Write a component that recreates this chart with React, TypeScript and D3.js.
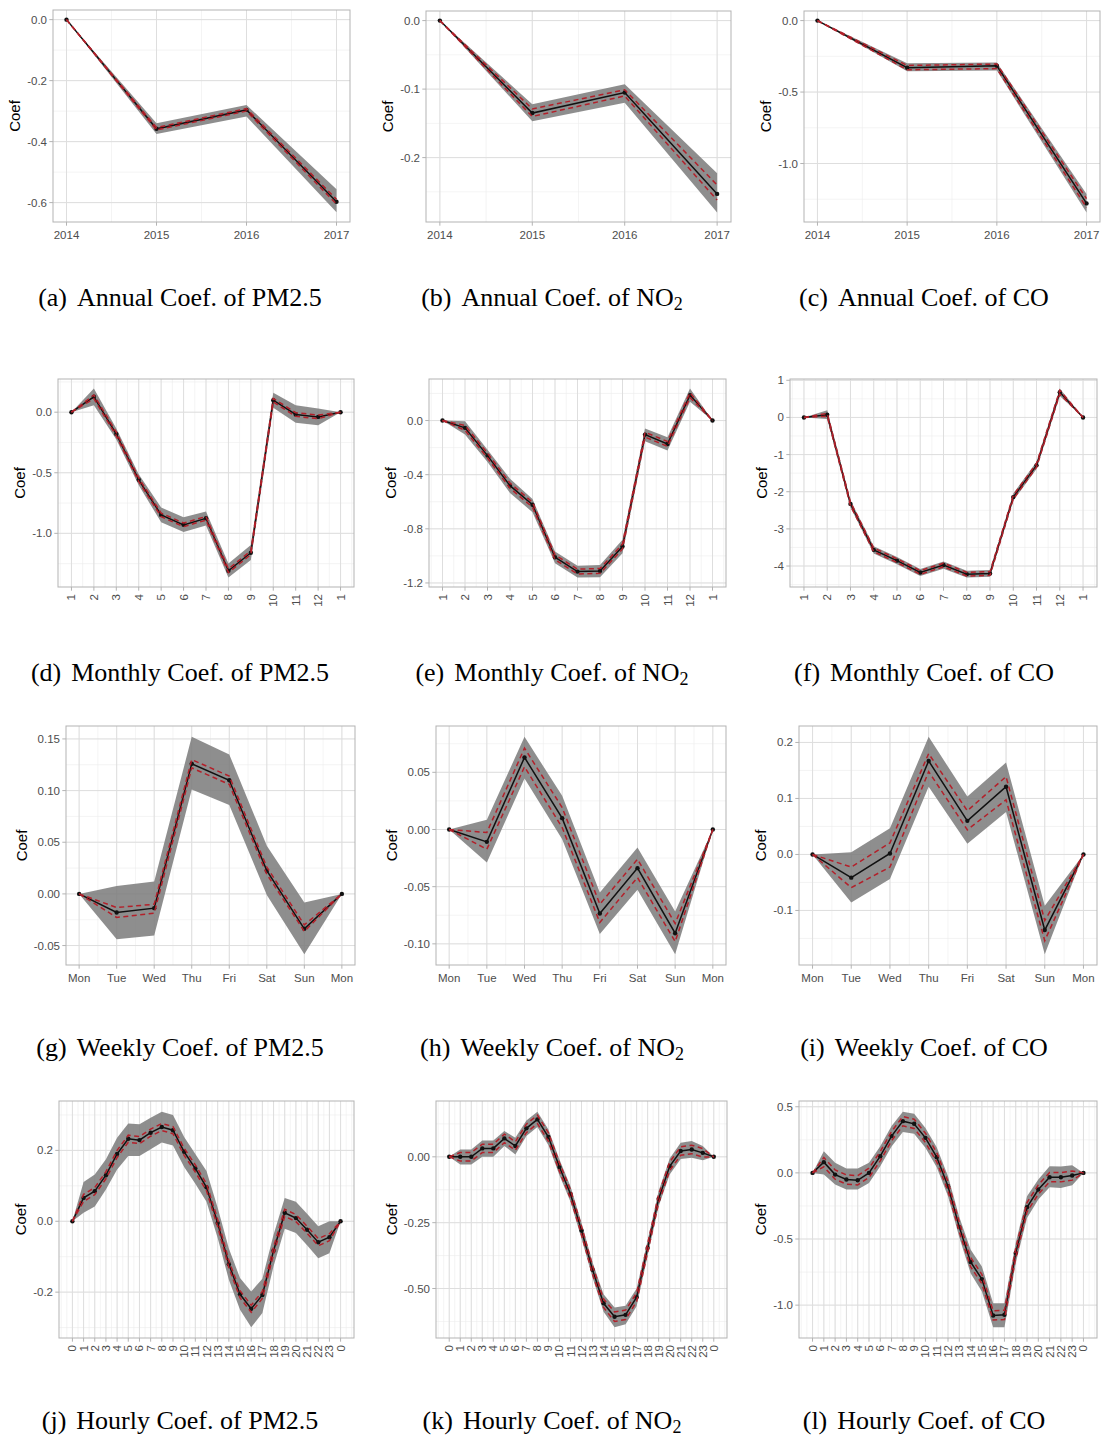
import React from 'react';
import * as d3 from 'd3';

// ---- x categories ----
const ANNUAL_X = ['2014', '2015', '2016', '2017'];
const MONTH_X = ['1', '2', '3', '4', '5', '6', '7', '8', '9', '10', '11', '12', '1'];
const WEEK_X = ['Mon', 'Tue', 'Wed', 'Thu', 'Fri', 'Sat', 'Sun', 'Mon'];
const HOUR_X = ['0', '1', '2', '3', '4', '5', '6', '7', '8', '9', '10', '11', '12', '13', '14', '15',
  '16', '17', '18', '19', '20', '21', '22', '23', '0'];

// ---- y tick labels ----
const YT_A = ['0.0', '-0.2', '-0.4', '-0.6'];
const YT_B = ['0.0', '-0.1', '-0.2'];
const YT_C = ['0.0', '-0.5', '-1.0'];
const YT_D = ['0.0', '-0.5', '-1.0'];
const YT_E = ['0.0', '-0.4', '-0.8', '-1.2'];
const YT_F = ['1', '0', '-1', '-2', '-3', '-4'];
const YT_G = ['0.15', '0.10', '0.05', '0.00', '-0.05'];
const YT_H = ['0.05', '0.00', '-0.05', '-0.10'];
const YT_I = ['0.2', '0.1', '0.0', '-0.1'];
const YT_J = ['0.2', '0.0', '-0.2'];
const YT_K = ['0.00', '-0.25', '-0.50'];
const YT_L = ['0.5', '0.0', '-0.5', '-1.0'];

// ---- (a) annual PM2.5 ----
const A_COEF = [0, -0.358, -0.296, -0.597];
const A_LO = [0, -0.375, -0.318, -0.632];
const A_HI = [0, -0.340, -0.280, -0.556];
const A_DLO = [0, -0.362, -0.300, -0.605];
const A_DHI = [0, -0.354, -0.292, -0.589];

// ---- (b) annual NO2 ----
const B_COEF = [0, -0.135, -0.105, -0.253];
const B_LO = [0, -0.147, -0.120, -0.280];
const B_HI = [0, -0.122, -0.093, -0.223];
const B_DLO = [0, -0.140, -0.110, -0.262];
const B_DHI = [0, -0.129, -0.101, -0.240];

// ---- (c) annual CO ----
const C_COEF = [0, -0.330, -0.316, -1.279];
const C_LO = [0, -0.354, -0.350, -1.342];
const C_HI = [0, -0.298, -0.293, -1.213];
const C_DLO = [0, -0.344, -0.336, -1.307];
const C_DHI = [0, -0.314, -0.304, -1.246];

// ---- (d) monthly PM2.5 ----
const D_COEF = [0, 0.127, -0.18, -0.558, -0.848, -0.93, -0.876, -1.309, -1.16, 0.099, -0.019, -0.039, 0];
const D_LO = [0, 0.058, -0.225, -0.603, -0.909, -0.99, -0.936, -1.365, -1.221, 0.036, -0.088, -0.108, 0];
const D_HI = [0, 0.196, -0.135, -0.513, -0.787, -0.867, -0.82, -1.249, -1.097, 0.160, 0.058, 0.030, 0];
const D_DLO = [0, 0.112, -0.195, -0.573, -0.863, -0.945, -0.891, -1.324, -1.175, 0.084, -0.034, -0.054, 0];
const D_DHI = [0, 0.142, -0.165, -0.543, -0.833, -0.915, -0.861, -1.294, -1.145, 0.114, -0.004, -0.024, 0];

// ---- (e) monthly NO2 ----
const E_COEF = [0, -0.054, -0.259, -0.481, -0.622, -1.01, -1.116, -1.111, -0.931, -0.104, -0.173, 0.188, 0];
const E_LO = [0, -0.104, -0.306, -0.536, -0.677, -1.054, -1.160, -1.158, -0.980, -0.153, -0.222, 0.138, 0];
const E_HI = [0, -0.005, -0.215, -0.430, -0.580, -0.968, -1.072, -1.067, -0.881, -0.059, -0.123, 0.237, 0];
const E_DLO = [0, -0.072, -0.277, -0.500, -0.640, -1.028, -1.134, -1.129, -0.949, -0.122, -0.191, 0.170, 0];
const E_DHI = [0, -0.036, -0.241, -0.462, -0.604, -0.992, -1.098, -1.093, -0.913, -0.086, -0.155, 0.206, 0];

// ---- (f) monthly CO ----
const F_COEF = [0, 0.073, -2.327, -3.564, -3.855, -4.173, -3.973, -4.218, -4.2, -2.145, -1.29, 0.68, 0];
const F_LO = [0, -0.04, -2.42, -3.66, -3.95, -4.27, -4.07, -4.31, -4.29, -2.24, -1.39, 0.58, 0];
const F_HI = [0, 0.19, -2.23, -3.47, -3.76, -4.08, -3.88, -4.13, -4.11, -2.05, -1.19, 0.78, 0];
const F_DLO = [0, 0.03, -2.377, -3.614, -3.905, -4.223, -4.023, -4.268, -4.25, -2.195, -1.34, 0.63, 0];
const F_DHI = [0, 0.11, -2.277, -3.514, -3.805, -4.123, -3.923, -4.168, -4.15, -2.095, -1.24, 0.73, 0];

// ---- (g) weekly PM2.5 ----
const G_COEF = [0, -0.018, -0.0138, 0.126, 0.110, 0.0225, -0.0338, 0];
const G_LO = [0, -0.0438, -0.0402, 0.101, 0.086, -0.001, -0.0583, 0];
const G_HI = [0, 0.0077, 0.0119, 0.152, 0.135, 0.0467, -0.0084, 0];
const G_DLO = [0, -0.0228, -0.0187, 0.122, 0.106, 0.019, -0.0362, 0];
const G_DHI = [0, -0.0132, -0.0100, 0.130, 0.114, 0.026, -0.0300, 0];

// ---- (h) weekly NO2 ----
const H_COEF = [0, -0.0108, 0.063, 0.0099, -0.0735, -0.0338, -0.0907, 0];
const H_LO = [0, -0.0289, 0.0446, -0.0085, -0.0915, -0.0528, -0.109, 0];
const H_HI = [0, 0.0085, 0.081, 0.0294, -0.0551, -0.0157, -0.0717, 0];
const H_DLO = [0, -0.0172, 0.0548, 0.0017, -0.0813, -0.042, -0.098, 0];
const H_DHI = [0, -0.0026, 0.0711, 0.0192, -0.0653, -0.026, -0.0822, 0];

// ---- (i) weekly CO ----
const I_COEF = [0, -0.0414, 0.0018, 0.167, 0.060, 0.121, -0.135, 0];
const I_LO = [0, -0.0858, -0.044, 0.121, 0.019, 0.0757, -0.178, 0];
const I_HI = [0, 0.004, 0.047, 0.210, 0.1036, 0.164, -0.0917, 0];
const I_DLO = [0, -0.0592, -0.0225, 0.148, 0.044, 0.0976, -0.154, 0];
const I_DHI = [0, -0.0225, 0.0207, 0.180, 0.078, 0.139, -0.118, 0];

// ---- (j) hourly PM2.5 ----
const J_COEF = [0, 0.066, 0.085, 0.13, 0.19, 0.233, 0.229, 0.25, 0.266, 0.257, 0.196, 0.149, 0.096, -0.005,
  -0.121, -0.206, -0.247, -0.208, -0.083, 0.024, 0.009, -0.024, -0.059, -0.045, 0];
const J_LO = [0, 0.024, 0.042, 0.09, 0.146, 0.184, 0.184, 0.203, 0.222, 0.214, 0.153, 0.106, 0.055, -0.047,
  -0.165, -0.25, -0.299, -0.259, -0.127, -0.021, -0.033, -0.068, -0.104, -0.09, 0];
const J_HI = [0, 0.111, 0.132, 0.175, 0.236, 0.276, 0.274, 0.292, 0.309, 0.3, 0.238, 0.19, 0.142, 0.038,
  -0.077, -0.16, -0.198, -0.162, -0.038, 0.066, 0.055, 0.021, -0.014, 0.0, 0];
const J_DLO = [0, 0.056, 0.075, 0.12, 0.18, 0.223, 0.219, 0.24, 0.256, 0.247, 0.186, 0.139, 0.086, -0.015,
  -0.131, -0.216, -0.257, -0.218, -0.093, 0.014, -0.001, -0.034, -0.069, -0.055, 0];
const J_DHI = [0, 0.076, 0.095, 0.14, 0.2, 0.243, 0.239, 0.26, 0.276, 0.267, 0.206, 0.159, 0.106, 0.005,
  -0.111, -0.196, -0.237, -0.198, -0.073, 0.034, 0.019, -0.014, -0.049, -0.035, 0];

// ---- (k) hourly NO2 ----
const K_COEF = [0, 0.0, 0.0, 0.032, 0.032, 0.07, 0.041, 0.108, 0.142, 0.075, -0.039, -0.141, -0.28, -0.429,
  -0.556, -0.607, -0.6, -0.533, -0.346, -0.159, -0.036, 0.022, 0.028, 0.015, 0];
const K_LO = [0, -0.029, -0.029, 0.0, 0.0, 0.041, 0.009, 0.079, 0.113, 0.044, -0.07, -0.171, -0.31, -0.458,
  -0.588, -0.647, -0.636, -0.567, -0.375, -0.188, -0.067, -0.008, -0.004, -0.013, 0];
const K_HI = [0, 0.028, 0.028, 0.062, 0.062, 0.098, 0.072, 0.138, 0.171, 0.104, -0.01, -0.112, -0.25, -0.4,
  -0.522, -0.572, -0.565, -0.5, -0.317, -0.13, -0.006, 0.053, 0.06, 0.041, 0];
const K_DLO = [0, -0.016, -0.016, 0.016, 0.016, 0.054, 0.025, 0.092, 0.126, 0.059, -0.055, -0.157, -0.296, -0.445,
  -0.572, -0.625, -0.618, -0.549, -0.362, -0.175, -0.052, 0.006, 0.012, -0.001, 0];
const K_DHI = [0, 0.016, 0.016, 0.048, 0.048, 0.086, 0.057, 0.124, 0.158, 0.091, -0.023, -0.125, -0.264, -0.413,
  -0.54, -0.589, -0.582, -0.517, -0.33, -0.143, -0.02, 0.038, 0.044, 0.031, 0];

// ---- (l) hourly CO ----
const L_COEF = [0, 0.081, -0.013, -0.05, -0.056, 0.0, 0.126, 0.278, 0.391, 0.371, 0.265, 0.119, -0.101, -0.41,
  -0.674, -0.803, -1.078, -1.073, -0.606, -0.26, -0.126, -0.033, -0.033, -0.02, 0];
const L_LO = [0, -0.013, -0.088, -0.126, -0.126, -0.076, 0.05, 0.2, 0.31, 0.295, 0.19, 0.043, -0.177, -0.486,
  -0.758, -0.896, -1.167, -1.167, -0.682, -0.341, -0.202, -0.109, -0.114, -0.093, 0];
const L_HI = [0, 0.164, 0.076, 0.033, 0.033, 0.076, 0.202, 0.354, 0.462, 0.447, 0.34, 0.194, -0.025, -0.334,
  -0.58, -0.707, -0.985, -0.985, -0.53, -0.177, -0.05, 0.05, 0.048, 0.058, 0];
const L_DLO = [0, 0.046, -0.048, -0.085, -0.091, -0.035, 0.091, 0.243, 0.356, 0.336, 0.23, 0.084, -0.136, -0.445,
  -0.709, -0.838, -1.113, -1.108, -0.641, -0.295, -0.161, -0.068, -0.068, -0.055, 0];
const L_DHI = [0, 0.116, 0.022, -0.015, -0.021, 0.035, 0.161, 0.313, 0.426, 0.406, 0.3, 0.154, -0.066, -0.375,
  -0.639, -0.768, -1.043, -1.038, -0.571, -0.225, -0.091, 0.002, 0.002, 0.015, 0];

const PANELS = [
  { id: 'a', period: 'Annual', pol: 'PM2.5', x: ANNUAL_X, yt: YT_A, coef: A_COEF, lo: A_LO, hi: A_HI, dlo: A_DLO, dhi: A_DHI },
  { id: 'b', period: 'Annual', pol: 'NO2', x: ANNUAL_X, yt: YT_B, coef: B_COEF, lo: B_LO, hi: B_HI, dlo: B_DLO, dhi: B_DHI },
  { id: 'c', period: 'Annual', pol: 'CO', x: ANNUAL_X, yt: YT_C, coef: C_COEF, lo: C_LO, hi: C_HI, dlo: C_DLO, dhi: C_DHI },
  { id: 'd', period: 'Monthly', pol: 'PM2.5', x: MONTH_X, yt: YT_D, coef: D_COEF, lo: D_LO, hi: D_HI, dlo: D_DLO, dhi: D_DHI },
  { id: 'e', period: 'Monthly', pol: 'NO2', x: MONTH_X, yt: YT_E, coef: E_COEF, lo: E_LO, hi: E_HI, dlo: E_DLO, dhi: E_DHI },
  { id: 'f', period: 'Monthly', pol: 'CO', x: MONTH_X, yt: YT_F, coef: F_COEF, lo: F_LO, hi: F_HI, dlo: F_DLO, dhi: F_DHI },
  { id: 'g', period: 'Weekly', pol: 'PM2.5', x: WEEK_X, yt: YT_G, coef: G_COEF, lo: G_LO, hi: G_HI, dlo: G_DLO, dhi: G_DHI },
  { id: 'h', period: 'Weekly', pol: 'NO2', x: WEEK_X, yt: YT_H, coef: H_COEF, lo: H_LO, hi: H_HI, dlo: H_DLO, dhi: H_DHI },
  { id: 'i', period: 'Weekly', pol: 'CO', x: WEEK_X, yt: YT_I, coef: I_COEF, lo: I_LO, hi: I_HI, dlo: I_DLO, dhi: I_DHI },
  { id: 'j', period: 'Hourly', pol: 'PM2.5', x: HOUR_X, yt: YT_J, coef: J_COEF, lo: J_LO, hi: J_HI, dlo: J_DLO, dhi: J_DHI },
  { id: 'k', period: 'Hourly', pol: 'NO2', x: HOUR_X, yt: YT_K, coef: K_COEF, lo: K_LO, hi: K_HI, dlo: K_DLO, dhi: K_DHI },
  { id: 'l', period: 'Hourly', pol: 'CO', x: HOUR_X, yt: YT_L, coef: L_COEF, lo: L_LO, hi: L_HI, dlo: L_DLO, dhi: L_DHI },
];

// plot-area boxes [left, top, right, bottom]
const BOXES = [
  [53, 10, 350, 222], [426, 11, 731, 222], [804, 11, 1100, 222],
  [58, 379, 354, 587], [429, 379, 726, 587], [790, 379, 1097, 587],
  [66, 726, 355, 965], [436, 726, 726, 965], [799, 726, 1097, 965],
  [59, 1101, 354, 1338], [436, 1101, 727, 1338], [799, 1101, 1097, 1338],
];
const CAP_X = [180, 552, 924];
const CAP_Y = [306, 681, 1056, 1429];

const W = 1102;
const H = 1437;
const SANS = "'Liberation Sans', Arial, Helvetica, sans-serif";
const SERIF = "'Liberation Serif', 'Times New Roman', Times, serif";
const TICK_FS = 11.5;

let ctx: CanvasRenderingContext2D | null = null;
function textWidth(s: string, size: number) {
  if (!ctx) ctx = document.createElement('canvas').getContext('2d');
  if (!ctx) return s.length * size * 0.55;
  ctx.font = `${size}px ${SANS}`;
  return ctx.measureText(s).width;
}

// ggplot-like minor breaks: extend one step each side, then halves
function minorBreaks(major: number[], lo: number, hi: number) {
  const b = [...major].sort((p, q) => p - q);
  const step = b[1] - b[0];
  const out: number[] = [];
  for (let v = b[0] - step; v <= b[b.length - 1] + step + 1e-9; v += step / 2) {
    if (v >= lo && v <= hi) out.push(v);
  }
  return out;
}

const Panel: React.FC<{ p: typeof PANELS[number]; box: number[] }> = ({ p, box }) => {
  const [l, t, r, b] = box;
  const n = p.x.length;
  const idx = d3.range(n);
  const xs = d3.scaleLinear().domain([-0.05 * (n - 1), 1.05 * (n - 1)]).range([l, r]);
  const ymin = d3.min(p.lo) as number;
  const ymax = d3.max(p.hi) as number;
  const pad = (ymax - ymin) * 0.05;
  const ys = d3.scaleLinear().domain([ymin - pad, ymax + pad]).range([b, t]);

  const yTicks = p.yt.map(s => +s);
  const yMinor = minorBreaks(yTicks, ymin - pad, ymax + pad);
  const xMinor = minorBreaks(idx, -0.05 * (n - 1), 1.05 * (n - 1));

  const area = d3.area<number>().x(i => xs(i)).y0(i => ys(p.lo[i])).y1(i => ys(p.hi[i]));
  const line = (arr: number[]) => d3.line<number>().x(i => xs(i)).y(i => ys(arr[i]))(idx) || '';

  const rotate = n > 8;
  const labW = d3.max(p.yt, s => textWidth(s, TICK_FS)) as number;
  const titleX = l - 6 - labW - 12;

  return (
    <g>
      {xMinor.map((v, i) => (
        <line key={'xm' + i} x1={xs(v)} x2={xs(v)} y1={t} y2={b} stroke="#ededed" strokeWidth={0.6} />
      ))}
      {yMinor.map((v, i) => (
        <line key={'ym' + i} x1={l} x2={r} y1={ys(v)} y2={ys(v)} stroke="#ededed" strokeWidth={0.6} />
      ))}
      {idx.map(i => (
        <line key={'xg' + i} x1={xs(i)} x2={xs(i)} y1={t} y2={b} stroke="#dedede" strokeWidth={1} />
      ))}
      {yTicks.map((v, i) => (
        <line key={'yg' + i} x1={l} x2={r} y1={ys(v)} y2={ys(v)} stroke="#dedede" strokeWidth={1} />
      ))}

      <path d={area(idx) || ''} fill="#7a7a7a" fillOpacity={0.85} />
      <path d={line(p.coef)} fill="none" stroke="#111" strokeWidth={1.5} />
      {idx.map(i => (
        <circle key={'pt' + i} cx={xs(i)} cy={ys(p.coef[i])} r={2.2} fill="#111" />
      ))}
      <path d={line(p.dlo)} fill="none" stroke="#b3202a" strokeWidth={1.5} strokeDasharray="5,3.5" />
      <path d={line(p.dhi)} fill="none" stroke="#b3202a" strokeWidth={1.5} strokeDasharray="5,3.5" />

      <rect x={l} y={t} width={r - l} height={b - t} fill="none" stroke="#b3b3b3" strokeWidth={1} />

      {yTicks.map((v, i) => (
        <g key={'yt' + i}>
          <line x1={l - 3.7} x2={l} y1={ys(v)} y2={ys(v)} stroke="#b3b3b3" />
          <text x={l - 6} y={ys(v)} dy="0.35em" textAnchor="end" fontSize={TICK_FS} fill="#4d4d4d" fontFamily={SANS}>
            {p.yt[i]}
          </text>
        </g>
      ))}
      {idx.map(i => (
        <g key={'xt' + i}>
          <line x1={xs(i)} x2={xs(i)} y1={b} y2={b + 3.7} stroke="#b3b3b3" />
          {rotate ? (
            <text transform={`translate(${xs(i)},${b + 7}) rotate(-90)`} dy="0.35em" textAnchor="end"
              fontSize={TICK_FS} fill="#4d4d4d" fontFamily={SANS}>{p.x[i]}</text>
          ) : (
            <text x={xs(i)} y={b + 17} textAnchor="middle" fontSize={TICK_FS} fill="#4d4d4d" fontFamily={SANS}>
              {p.x[i]}
            </text>
          )}
        </g>
      ))}

      <text transform={`translate(${titleX},${(t + b) / 2}) rotate(-90)`} dy="0.35em" textAnchor="middle"
        fontSize={15} fill="#000" fontFamily={SANS}>Coef</text>
    </g>
  );
};

const Caption: React.FC<{ p: typeof PANELS[number]; k: number }> = ({ p, k }) => {
  const cx = CAP_X[k % 3];
  const cy = CAP_Y[Math.floor(k / 3)];
  const isNO2 = p.pol === 'NO2';
  return (
    <text x={cx} y={cy} textAnchor="middle" fontSize={26} fontFamily={SERIF} fill="#000">
      <tspan>({p.id})</tspan>
      <tspan dx={10}>{p.period} Coef. of {isNO2 ? 'NO' : p.pol}</tspan>
      {isNO2 && <tspan dy={4} fontSize={18}>2</tspan>}
    </text>
  );
};

export default function App() {
  return (
    <svg width={W} height={H} viewBox={`0 0 ${W} ${H}`}
      style={{ position: 'absolute', left: 0, top: 0, display: 'block', background: '#fff' }}>
      <rect x={0} y={0} width={W} height={H} fill="#fff" />
      {PANELS.map((p, k) => (
        <g key={p.id}>
          <Panel p={p} box={BOXES[k]} />
          <Caption p={p} k={k} />
        </g>
      ))}
    </svg>
  );
}
